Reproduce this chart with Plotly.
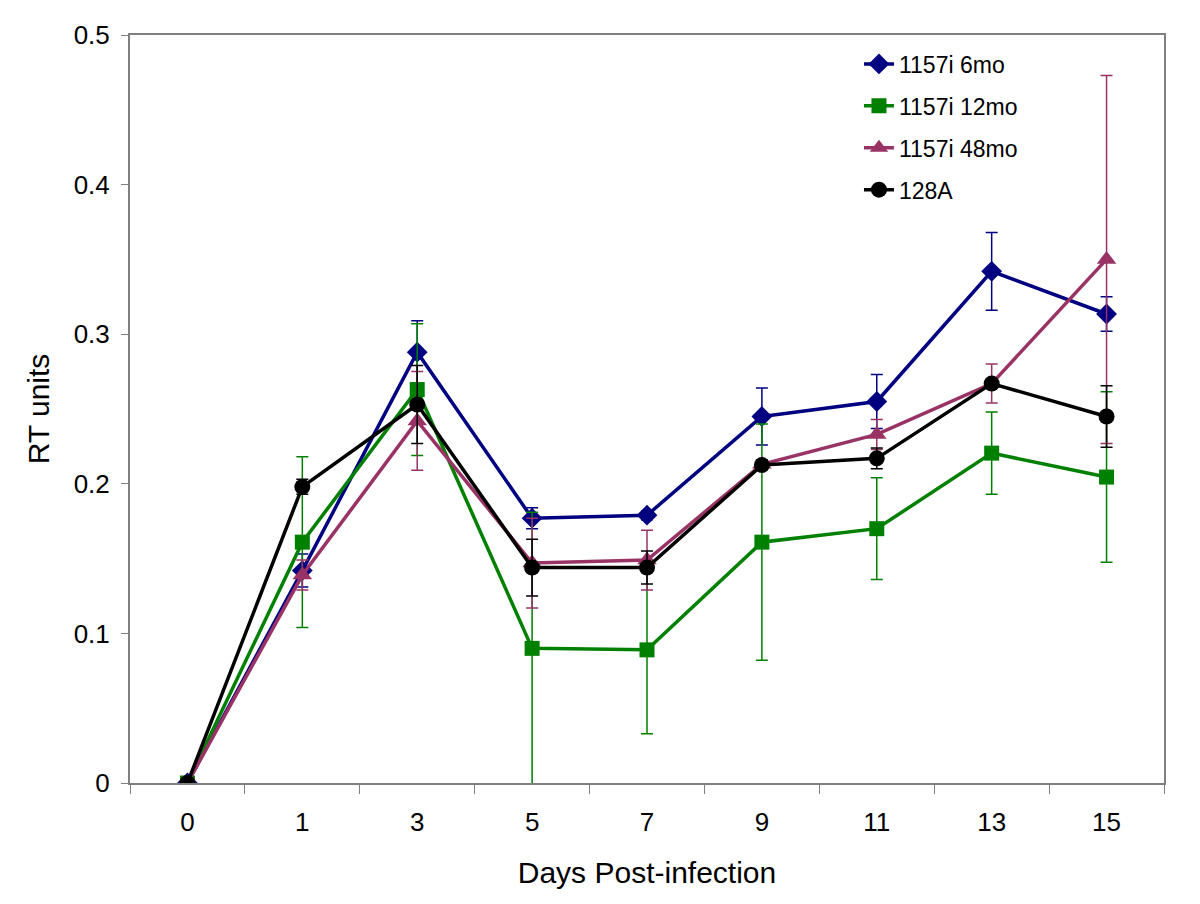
import plotly.graph_objects as go

days = ["0", "1", "3", "5", "7", "9", "11", "13", "15"]

series_names = ["1157i 6mo", "1157i 12mo", "1157i 48mo", "128A"]

vals_6mo = [0, 0.142, 0.288, 0.177, 0.179, 0.245, 0.255, 0.342, 0.3135]
err_6mo = [0, 0.011, 0.021, 0.007, 0.003, 0.019, 0.018, 0.026, 0.0115]

vals_12mo = [0, 0.161, 0.263, 0.090, 0.089, 0.161, 0.170, 0.2205, 0.2045]
err_12mo = [0, 0.057, 0.044, 0.091, 0.056, 0.079, 0.034, 0.0275, 0.057]

vals_48mo = [0, 0.139, 0.242, 0.147, 0.149, 0.213, 0.233, 0.267, 0.350]
err_48mo = [0, 0.010, 0.033, 0.030, 0.020, 0.003, 0.010, 0.013, 0.123]

vals_128A = [0, 0.198, 0.253, 0.144, 0.144, 0.2125, 0.217, 0.267, 0.245]
err_128A = [0, 0.005, 0.026, 0.019, 0.011, 0.003, 0.007, 0.003, 0.0205]

colors = ["#000080", "#008000", "#993366", "#000000"]
symbols = ["diamond", "square", "triangle-up", "circle"]
sizes = [16, 15, 17, 16]

all_vals = [vals_6mo, vals_12mo, vals_48mo, vals_128A]
all_errs = [err_6mo, err_12mo, err_48mo, err_128A]

fig = go.Figure()
for i, name in enumerate(series_names):
    fig.add_trace(go.Scatter(
        x=days, y=all_vals[i], name=name, mode="lines+markers",
        legendgroup=name,
        line=dict(color=colors[i], width=3.5),
        marker=dict(symbol=symbols[i], size=sizes[i], color=colors[i]),
        error_y=dict(type="data", array=all_errs[i], visible=True,
                     color=colors[i], thickness=1.5, width=6),
    ))

font_family = "Liberation Sans, Arial, sans-serif"

fig.update_layout(
    width=1184, height=888,
    margin=dict(l=122, r=28, t=27, b=113),
    paper_bgcolor="white", plot_bgcolor="white",
    font=dict(family=font_family, color="black"),
    showlegend=True,
    legend=dict(x=0.705, y=0.99, xanchor="left", yanchor="top",
                bgcolor="rgba(0,0,0,0)", font=dict(size=23, family=font_family),
                tracegroupgap=9, traceorder="grouped"),
    xaxis=dict(type="category", range=[-0.5, len(days) - 0.5],
               tickson="boundaries", ticks="outside", ticklen=9,
               tickcolor="#808080", showline=True, linecolor="#808080", linewidth=2,
               mirror=True, showgrid=False, tickfont=dict(size=26),
               ticklabelstandoff=15,
               title=dict(text="Days Post-infection", font=dict(size=30), standoff=26)),
    yaxis=dict(range=[0, 0.5], dtick=0.1, ticks="outside", ticklen=7,
               tickcolor="#808080", showline=True, linecolor="#808080", linewidth=2,
               mirror=True, showgrid=False, zeroline=False, tickfont=dict(size=26),
               ticklabelstandoff=6,
               title=dict(text="RT units", font=dict(size=30), standoff=15)),
)

fig.write_html("out.html")
